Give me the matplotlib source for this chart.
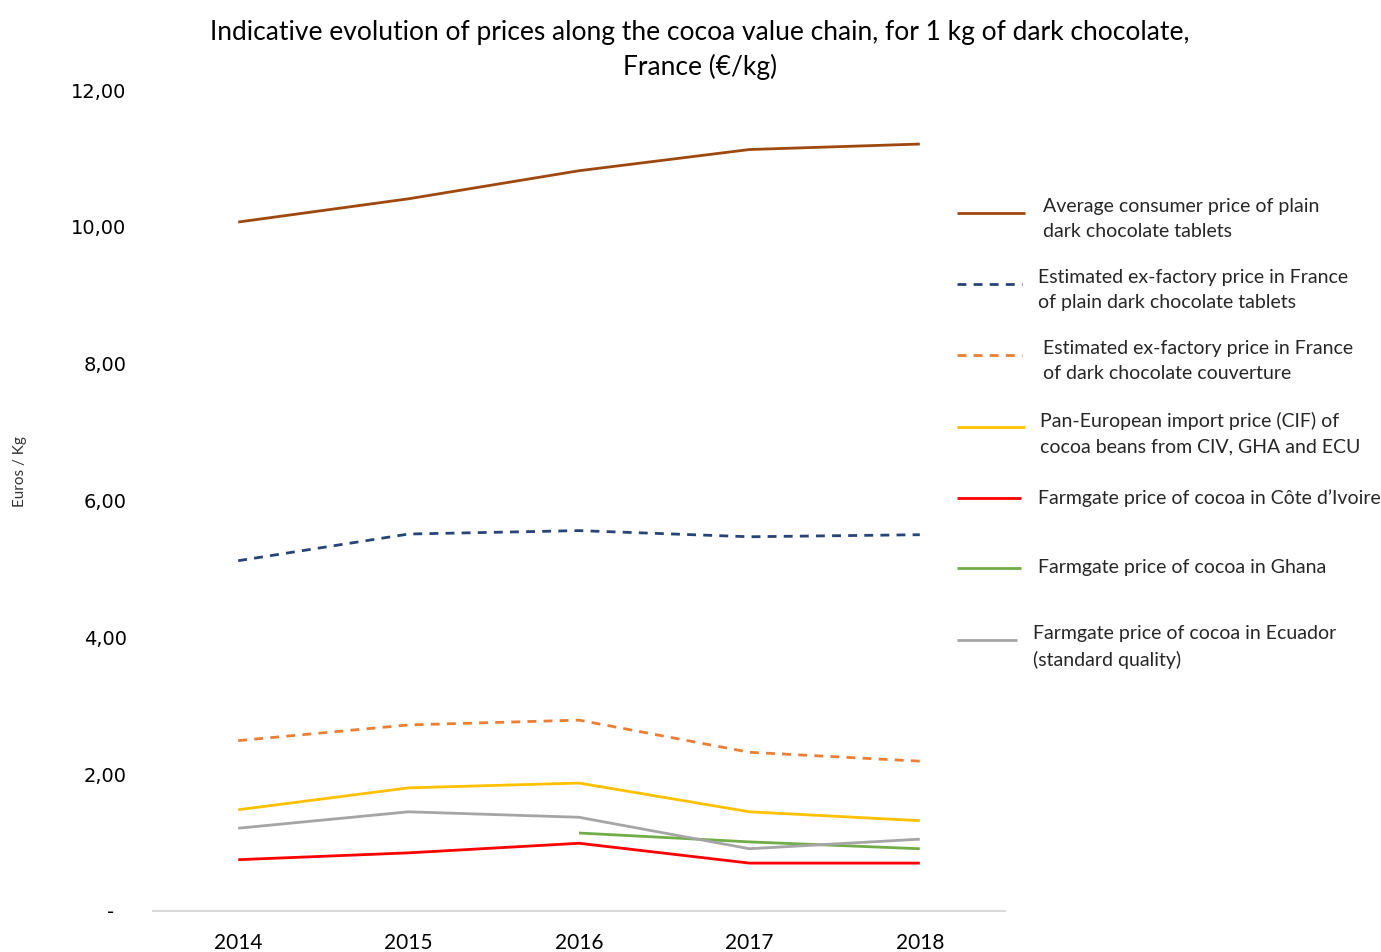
import matplotlib
matplotlib.use("Agg")
import matplotlib.pyplot as plt
from matplotlib.lines import Line2D

years = ["2014", "2015", "2016", "2017", "2018"]
consumer = [10.07, 10.41, 10.82, 11.13, 11.21]
tablets = [5.12, 5.51, 5.56, 5.47, 5.50]
couverture = [2.49, 2.72, 2.79, 2.32, 2.19]
cif = [1.48, 1.80, 1.87, 1.45, 1.32]
civ = [0.75, 0.85, 0.99, 0.70, 0.70]
ghana = [None, None, 1.14, 1.01, 0.91]
ecuador = [1.21, 1.45, 1.37, 0.91, 1.05]

labels = [
    "Average consumer price of plain\ndark chocolate tablets",
    "Estimated ex-factory price in France\nof plain dark chocolate tablets",
    "Estimated ex-factory price in France\nof dark chocolate couverture",
    "Pan-European import price (CIF) of\ncocoa beans from CIV, GHA and ECU",
    "Farmgate price of cocoa in Côte d\u2019Ivoire",
    "Farmgate price of cocoa in Ghana",
    "Farmgate price of cocoa in Ecuador\n(standard quality)",
]
series = [consumer, tablets, couverture, cif, civ, ghana, ecuador]
colors = ["#9E480E", "#264478", "#ED7D31", "#FFC000", "#FF0000", "#70AD47", "#A5A5A5"]
styles = ["-", "--", "--", "-", "-", "-", "-"]

fig = plt.figure(figsize=(13.81, 9.52), dpi=100)
ax = fig.add_axes([153/1381, 1-911/952, (1005-153)/1381, (911-90)/952])

x = list(range(len(years)))
for s, c, ls in zip(series, colors, styles):
    xs = [xi for xi, v in zip(x, s) if v is not None]
    ys = [v for v in s if v is not None]
    kw = dict(color=c, lw=2.0, solid_capstyle="butt")
    if ls == "--":
        kw["dashes"] = (3.2, 2.6)
    ax.plot(xs, ys, **kw)

ax.set_xlim(-0.5, 4.5)
ax.set_ylim(0, 12)
ax.set_xticks(x)
ax.set_xticklabels(years, fontsize=15, family="Lato")
yt = [0, 2, 4, 6, 8, 10, 12]
ax.set_yticks(yt)
ax.set_yticklabels(["-  " if v == 0 else f"{v:.2f}".replace(".", ",") for v in yt],
                   fontsize=14, family="DejaVu Sans")
ax.tick_params(axis="both", length=0)
ax.tick_params(axis="y", pad=19)
ax.tick_params(axis="x", pad=16)
for sp in ["top", "right", "left"]:
    ax.spines[sp].set_visible(False)
ax.spines["bottom"].set_color("#D9D9D9")
ax.spines["bottom"].set_linewidth(1.5)

fig.text(20/1381, 1-472/952, "Euros / Kg", rotation=90, ha="center", va="center",
         fontsize=11, family="Lato", color="#333333")
fig.text(700/1381, 1-50/952,
         "Indicative evolution of prices along the cocoa value chain, for 1 kg of dark chocolate,\nFrance (\u20ac/kg)",
         ha="center", va="center", fontsize=19, family="Lato", linespacing=1.45)

# legend
leg_y = [213, 284, 355, 427, 498, 568, 640]
line_end = [1025, 1022, 1022, 1025, 1021, 1021, 1017]
text_x = [1043, 1038, 1043, 1040, 1038, 1038, 1033]
for lab, c, ls, yy, le, tx in zip(labels, colors, styles, leg_y, line_end, text_x):
    yf = 1 - yy/952
    kw = dict(color=c, lw=2.0, solid_capstyle="butt")
    if ls == "--":
        kw["dashes"] = (3.2, 2.6)
    fig.add_artist(Line2D([957/1381, le/1381], [yf, yf], transform=fig.transFigure, **kw))
    nlines = lab.count("\n") + 1
    if nlines > 1:
        fig.text(tx/1381, 1 - (yy - 15)/952, lab, ha="left", va="top",
                 fontsize=14, family="Lato", linespacing=1.6, color="#262626")
    else:
        fig.text(tx/1381, 1 - yy/952, lab, ha="left", va="center",
                 fontsize=14, family="Lato", color="#262626")

fig.savefig("out.png", dpi=100)
